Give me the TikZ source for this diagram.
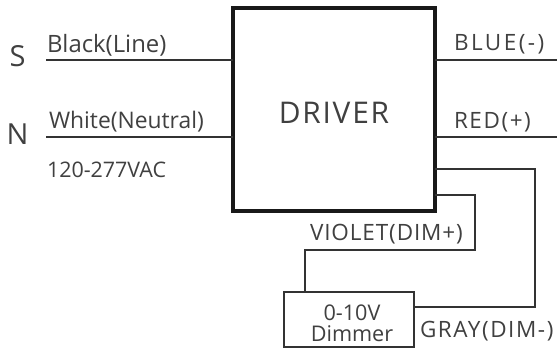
\documentclass[tikz,border=0pt]{standalone}
\usepackage{fontspec}
\setmainfont{Open Sans}
\newcommand{\capstext}[1]{\addfontfeature{LetterSpace=#1}}
\tikzset{
    wire/.style={line width=1.4pt, black!80},
    label/.style={inner sep=0pt, outer sep=0pt, text=black!75, font=\fontsize{13.6}{14}\selectfont},
    pole/.style={inner sep=0pt, outer sep=0pt, text=black!75, font=\fontsize{16.5}{17}\selectfont}
}
\begin{document}
\begin{tikzpicture}
        \useasboundingbox (0,0) rectangle (11.14,7.04);
        \node[draw=black!90, line width=2.8pt, minimum width=4.04cm, minimum height=4.06cm, inner sep=0pt, outer sep=0pt] (driver) at (6.68,4.85) {};
        \node[label, font=\fontsize{17}{18}\selectfont\capstext{6}] (driverLabel) at (6.68,4.78) {DRIVER};
        \node[draw=black!80, line width=1.5pt, minimum width=2.6cm, minimum height=1.1cm, inner sep=0pt, outer sep=0pt] (dimmer) at (6.98,0.65) {};
        \node[label, align=center, font=\fontsize{12.3}{12}\selectfont] (dimmerLabel) at (7.04,0.58) {0-10V\\Dimmer};
        % input side
        \coordinate (sEnd) at (0.92,5.84);
        \coordinate (nEnd) at (0.92,4.3);
        \draw[wire] (sEnd) -- (driver.west |- sEnd);
        \draw[wire] (nEnd) -- (driver.west |- nEnd);
        \node[pole] (sLabel) at (0.35,5.92) {S};
        \node[pole] (nLabel) at (0.35,4.36) {N};
        \node[label, anchor=west] (blackLabel) at (0.94,6.14) {Black(Line)};
        \node[label, anchor=west, font=\fontsize{13}{14}\selectfont] (whiteLabel) at (0.98,4.6) {White(Neutral)};
        \node[label, anchor=west, font=\fontsize{12.2}{13}\selectfont] (vacLabel) at (0.94,3.64) {120-277VAC};
        % output side
        \coordinate (blueEnd) at (11.14,5.84);
        \coordinate (redEnd) at (11.14,4.3);
        \draw[wire] (driver.east |- blueEnd) -- (blueEnd);
        \draw[wire] (driver.east |- redEnd) -- (redEnd);
        \node[label, anchor=west, font=\fontsize{12.8}{14}\selectfont\capstext{11}] (blueLabel) at (9.08,6.16) {BLUE(-)};
        \node[label, anchor=west, font=\fontsize{12.8}{14}\selectfont\capstext{7}] (redLabel) at (9.08,4.6) {RED(+)};
        % dimmer wires
        \coordinate (violetA) at (9.5,3.14);
        \coordinate (violetB) at (9.5,2.04);
        \coordinate (violetC) at (6.1,2.04);
        \draw[wire] (driver.east |- violetA) -- (violetA) -- (violetB) -- (violetC) -- (dimmer.north -| violetC);
        \coordinate (grayA) at (10.7,3.66);
        \coordinate (grayB) at (10.7,0.9);
        \draw[wire] (driver.east |- grayA) -- (grayA) -- (grayB) -- (dimmer.east |- grayB);
        \node[label, anchor=west, font=\fontsize{12.8}{14}\selectfont\capstext{4}] (violetLabel) at (6.2,2.35) {VIOLET(DIM+)};
        \node[label, anchor=west, font=\fontsize{12.8}{14}\selectfont\capstext{7}] (grayLabel) at (8.4,0.42) {GRAY(DIM-)};
    \end{tikzpicture}
\end{document}
